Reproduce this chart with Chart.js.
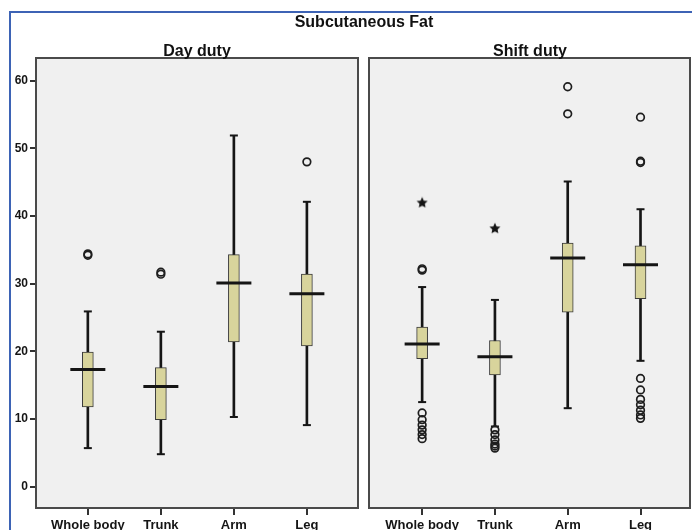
<!DOCTYPE html>
<html lang="en">
<head>
  <meta charset="UTF-8" />
  <title>Subcutaneous Fat</title>
  <script src="https://cdn.jsdelivr.net/npm/chart.js"></script>
  <style>
    body {
      margin: 0;
      background: #fff;
      font-family: "Liberation Sans", Arial, sans-serif;
    }
    #wrap {
      position: relative;
      width: 692px;
      height: 530px;
      overflow: hidden;
    }
    .frame {
      position: absolute;
      left: 9px;
      top: 11px;
      width: 700px;
      height: 540px;
      border-top: 2px solid #3d63b5;
      border-left: 2px solid #3d63b5;
    }
    .title {
      position: absolute;
      font-weight: bold;
      font-size: 16px;
      line-height: 16px;
      color: #111;
      text-align: center;
      width: 240px;
    }
    canvas {
      position: absolute;
      top: 0;
    }
  </style>
</head>
<body>
  <div id="wrap">
    <div class="frame"></div>
    <canvas id="dayChart" width="364" height="530" style="left:0"></canvas>
    <canvas id="shiftChart" width="328" height="530" style="left:364px"></canvas>
    <div class="title" style="left:244px;top:14px">Subcutaneous Fat</div>
    <div class="title" style="left:77px;top:43px">Day duty</div>
    <div class="title" style="left:410px;top:43px">Shift duty</div>
  </div>

  <script>
    const categories = ['Whole body', 'Trunk', 'Arm', 'Leg'];

    // Day duty
    const dayLow = [5.7, 4.8, 10.3, 9.1];
    const dayQ1 = [11.8, 9.9, 21.4, 20.8];
    const dayMedian = [17.3, 14.8, 30.1, 28.5];
    const dayQ3 = [19.9, 17.6, 34.3, 31.4];
    const dayHigh = [25.9, 22.9, 51.9, 42.1];
    const dayOutliers = [[34.2, 34.4], [31.4, 31.7], [], [48.0]];
    const dayExtremes = [[], [], [], []];

    // Shift duty
    const shiftLow = [12.5, 8.9, 11.6, 18.6];
    const shiftQ1 = [18.9, 16.5, 25.8, 27.8];
    const shiftMedian = [21.1, 19.2, 33.8, 32.8];
    const shiftQ3 = [23.6, 21.6, 36.0, 35.6];
    const shiftHigh = [29.5, 27.6, 45.1, 41.0];
    const shiftOutliers = [
      [32.0, 32.2, 10.9, 9.9, 9.1, 8.4, 7.7, 7.1],
      [8.4, 7.7, 6.9, 6.3, 6.0, 5.7],
      [59.1, 55.1],
      [54.6, 47.9, 48.1, 16.0, 14.3, 12.9, 12.1, 11.3, 10.6, 10.1]
    ];
    const shiftExtremes = [[42.0], [38.2], [], []];

    const yTicks = [0, 10, 20, 30, 40, 50, 60];

    const boxFill = '#d8d49c';
    const ink = '#151515';
    const font = { family: '"Liberation Sans", Arial, sans-serif', weight: 'bold' };

    // small filled star for extreme values
    const star = document.createElement('canvas');
    star.width = 12; star.height = 12;
    (function () {
      const c = star.getContext('2d');
      c.fillStyle = ink;
      c.beginPath();
      for (let i = 0; i < 10; i++) {
        const r = i % 2 === 0 ? 5.8 : 2.8;
        const a = -Math.PI / 2 + i * Math.PI / 5;
        const px = 6 + r * Math.cos(a), py = 6.4 + r * Math.sin(a);
        i === 0 ? c.moveTo(px, py) : c.lineTo(px, py);
      }
      c.closePath();
      c.fill();
    })();

    const panelFrame = {
      id: 'panelFrame',
      beforeDraw(chart) {
        const { ctx, chartArea: a } = chart;
        ctx.save();
        ctx.fillStyle = '#f0f0f0';
        ctx.fillRect(a.left, a.top, a.right - a.left, a.bottom - a.top);
        ctx.restore();
      },
      afterDraw(chart) {
        const { ctx, chartArea: a } = chart;
        ctx.save();
        ctx.strokeStyle = '#4a4a4a';
        ctx.lineWidth = 2;
        ctx.strokeRect(a.left, a.top, a.right - a.left, a.bottom - a.top);
        ctx.restore();
      }
    };

    function boxDatasets(low, q1, med, q3, high, outliers, extremes) {
      const idx = categories.map((c, i) => i);
      const flatten = (groups) => groups.flatMap((vals, i) => vals.map(v => ({ x: i, y: v })));
      return [
        {
          type: 'scatter', order: 0,
          data: idx.map(i => ({ x: i, y: med[i] })),
          pointStyle: 'line', pointRadius: 17.5, borderWidth: 3, borderColor: ink
        },
        {
          type: 'scatter', order: 0,
          data: flatten(outliers),
          pointStyle: 'circle', pointRadius: 3.8, borderWidth: 1.7,
          borderColor: '#1e1e1e', backgroundColor: 'rgba(0,0,0,0)'
        },
        {
          type: 'scatter', order: 0,
          data: flatten(extremes),
          pointStyle: star, pointRadius: 6
        },
        {
          type: 'bar', order: 1, grouped: false,
          data: idx.map(i => ({ x: i, y: [q1[i], q3[i]] })),
          barThickness: 11, backgroundColor: boxFill, borderColor: '#3a3a3a',
          borderWidth: 1, borderSkipped: false
        },
        {
          type: 'scatter', order: 2,
          data: idx.flatMap(i => [{ x: i, y: low[i] }, { x: i, y: high[i] }]),
          pointStyle: 'line', pointRadius: 4, borderWidth: 2, borderColor: ink
        },
        {
          type: 'bar', order: 3, grouped: false,
          data: idx.map(i => ({ x: i, y: [low[i], high[i]] })),
          barThickness: 2, backgroundColor: ink, borderWidth: 0
        }
      ];
    }

    function makeChart(id, sets, showY, padding, xMin, xMax) {
      return new Chart(document.getElementById(id), {
        type: 'scatter',
        data: { datasets: sets },
        plugins: [panelFrame],
        options: {
          responsive: false,
          animation: false,
          events: [],
          layout: { padding: padding, autoPadding: false },
          plugins: { legend: { display: false }, tooltip: { enabled: false }, title: { display: false } },
          scales: {
            x: {
              type: 'linear',
              min: xMin,
              max: xMax,
              offset: false,
              afterBuildTicks: s => { s.ticks = categories.map((c, i) => ({ value: i })); },
              afterFit: s => { s.height = 22; s.paddingLeft = 0; s.paddingRight = 0; },
              border: { display: false },
              grid: { offset: false, drawOnChartArea: false, drawTicks: true, tickLength: 7, color: '#333', lineWidth: 2 },
              ticks: {
                autoSkip: false, maxRotation: 0, padding: 3, color: ink,
                font: { ...font, size: 13 },
                callback: v => categories[v]
              }
            },
            y: {
              type: 'linear',
              min: -3.15,
              max: 63.35,
              display: showY,
              afterBuildTicks: s => { s.ticks = yTicks.map(v => ({ value: v })); },
              afterFit: s => { s.width = showY ? 36 : 0; s.paddingTop = 0; s.paddingBottom = 0; },
              border: { display: false },
              grid: { drawOnChartArea: false, drawTicks: true, tickLength: 6, color: '#333', lineWidth: 2 },
              ticks: { padding: 2, color: ink, font: { ...font, size: 12 } }
            }
          }
        }
      });
    }

    makeChart('dayChart',
      boxDatasets(dayLow, dayQ1, dayMedian, dayQ3, dayHigh, dayOutliers, dayExtremes),
      true, { top: 58, right: 6, bottom: 0, left: 0 }, -0.71, 3.7);

    makeChart('shiftChart',
      boxDatasets(shiftLow, shiftQ1, shiftMedian, shiftQ3, shiftHigh, shiftOutliers, shiftExtremes),
      false, { top: 58, right: 2, bottom: 0, left: 5 }, -0.73, 3.68);
  </script>
</body>
</html>
